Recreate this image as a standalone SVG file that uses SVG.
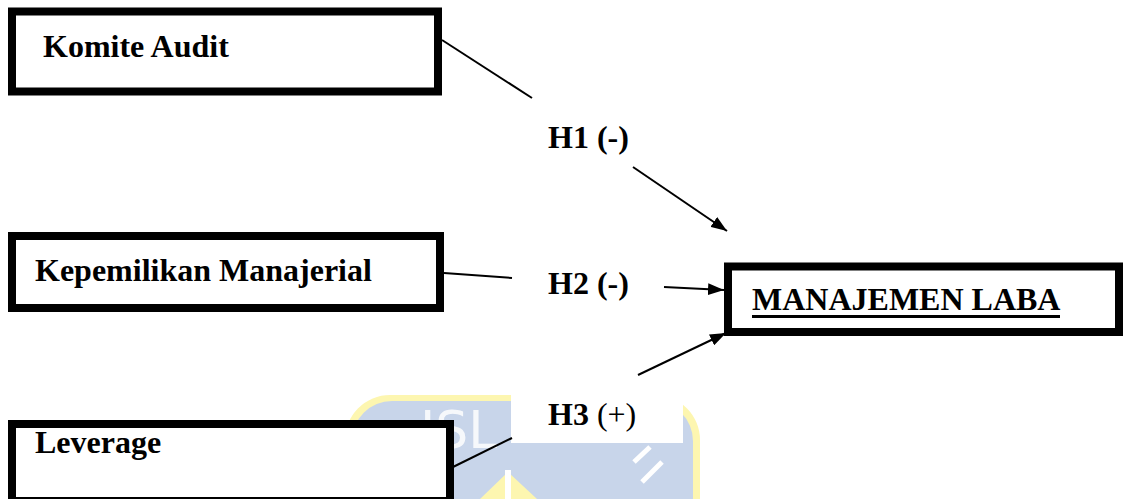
<svg xmlns="http://www.w3.org/2000/svg" width="1123" height="499" viewBox="0 0 1123 499">
  <style>
    .box { fill: #ffffff; stroke: #000000; stroke-width: 8; }
    .lbl { font-family: "Liberation Serif", "Times New Roman", serif; font-weight: bold; font-size: 32px; fill: #000000; }
    .conn { stroke: #000000; stroke-width: 2; fill: none; }
  </style>
  <defs>
    <marker id="arrowL" viewBox="0 0 16 12" refX="16" refY="6" markerWidth="16" markerHeight="12" markerUnits="userSpaceOnUse" orient="auto">
      <path d="M0,0 L16,6 L0,12 Z" fill="#000000"/>
    </marker>
  </defs>

  <!-- watermark (partial, faint) -->
  <g id="watermark">
    <rect x="345" y="395" width="355" height="200" rx="45" fill="#fdf6b0"/>
    <rect x="352" y="401" width="341" height="190" rx="40" fill="#c8d5ea"/>
    <text x="420" y="448" font-family="DejaVu Sans, sans-serif" font-size="52" fill="#ffffff" opacity="0.85">ISL</text>
    <path d="M508,472 L537,499 L480,499 Z" fill="#fdf6b0"/>
    <rect x="505" y="470" width="6" height="29" fill="#ffffff"/>
    <path d="M650,447 L634,462" stroke="#ffffff" stroke-width="5"/>
    <path d="M662,462 L642,482" stroke="#ffffff" stroke-width="5"/>
    <rect x="511" y="380" width="172" height="63" fill="#ffffff"/>
  </g>

  <g id="connectors">
    <line class="conn" x1="442" y1="40" x2="532" y2="98"/>
    <line class="conn" x1="633" y1="167" x2="727" y2="231" marker-end="url(#arrowL)"/>
    <line class="conn" x1="444" y1="273" x2="512" y2="278"/>
    <line class="conn" x1="664" y1="287" x2="724" y2="290" marker-end="url(#arrowL)"/>
    <line class="conn" x1="638" y1="375" x2="726" y2="333" marker-end="url(#arrowL)"/>
    <line class="conn" x1="453" y1="467" x2="512" y2="438"/>
  </g>

  <g id="node-komite-audit">
    <rect class="box" x="12" y="11.5" width="426" height="80"/>
    <text class="lbl" x="43" y="57">Komite Audit</text>
  </g>

  <g id="node-kepemilikan-manajerial">
    <rect class="box" x="12" y="236" width="428" height="72"/>
    <text class="lbl" x="35" y="281">Kepemilikan Manajerial</text>
  </g>

  <g id="node-leverage">
    <rect class="box" x="12" y="424" width="438" height="77"/>
    <text class="lbl" x="35" y="453">Leverage</text>
  </g>

  <g id="node-manajemen-laba">
    <rect class="box" x="728" y="266.5" width="391" height="65.5"/>
    <text class="lbl" x="752" y="310">MANAJEMEN LABA</text>
    <line x1="752" y1="316.5" x2="1060" y2="316.5" stroke="#000000" stroke-width="3"/>
  </g>

  <g id="labels">
    <text class="lbl" x="548" y="148">H1 (-)</text>
    <text class="lbl" x="548" y="294">H2 (-)</text>
    <text class="lbl" x="548" y="425">H3 <tspan font-weight="normal">(+)</tspan></text>
  </g>
</svg>
